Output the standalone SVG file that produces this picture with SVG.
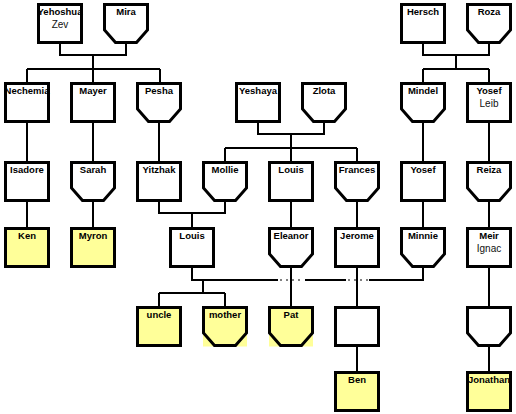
<svg xmlns="http://www.w3.org/2000/svg" width="516" height="414" viewBox="0 0 516 414">
<style>
.b{fill:#fff;stroke:#000;stroke-width:3}
.d .b{fill:#ffff99}
.yb{fill:#ffff99}
.c{fill:none;stroke:#000;stroke-width:2}
.g{fill:none;stroke:#000;stroke-width:1;stroke-dasharray:2 4}
text{font-family:"Liberation Sans",Arial,sans-serif;font-size:9.5px;font-weight:bold;fill:#000;text-anchor:middle}
text.s{font-weight:normal;font-size:10px;fill:#111}
</style>
<rect width="516" height="414" fill="#fff"/>
<g id="connectors">
<path class="c" d="M60 43 V55 H126 V43 M93 55 V69 M27 69 H160 M27 69 V83 M93 69 V83 M160 69 V83"/>
<path class="c" d="M423 43 V55 H489 V43 M456 55 V69 M423 69 H489 M423 69 V83 M489 69 V83"/>
<path class="c" d="M258 122 V134 H324 V122 M291 134 V148 M225 148 H357 M225 148 V162 M291 148 V162 M357 148 V162"/>
<path class="c" d="M27 122 V162 M93 122 V162 M159 122 V162 M423 122 V162 M489 122 V162"/>
<path class="c" d="M27 201 V228 M93 201 V228 M291 201 V228 M357 201 V228 M423 201 V228 M489 201 V228"/>
<path class="c" d="M159 201 V213 H225 V201 M192 213 V228"/>
<path class="c" d="M192 267 V280 H278 M305 280 H346 M369 280 H423 V267"/>
<path class="g" d="M280 280 H304 M348 280 H368"/>
<path class="c" d="M203 280 V293 M159 293 H225 M159 293 V307 M225 293 V307"/>
<path class="c" d="M291 267 V307 M357 267 V307 M489 267 V307 M357 346 V372 M489 346 V372"/>
</g>
<g id="yehoshua"><rect class="b" x="38.5" y="4.5" width="43" height="38"/><text x="60" y="15">Yehoshua</text><text class="s" x="60" y="27.5">Zev</text></g>
<g id="mira"><path class="b" d="M104.5 4.5 H147.5 V30 L136.5 42.5 H115.5 L104.5 30 Z"/><text x="126" y="15">Mira</text></g>
<g id="hersch"><rect class="b" x="401.5" y="4.5" width="43" height="38"/><text x="423" y="15">Hersch</text></g>
<g id="roza"><path class="b" d="M467.5 4.5 H510.5 V30 L499.5 42.5 H478.5 L467.5 30 Z"/><text x="489" y="15">Roza</text></g>

<g id="nechemia"><rect class="b" x="5.5" y="83.5" width="43" height="38"/><text x="27" y="94">Nechemia</text></g>
<g id="mayer"><rect class="b" x="71.5" y="83.5" width="43" height="38"/><text x="93" y="94">Mayer</text></g>
<g id="pesha"><path class="b" d="M137.5 83.5 H180.5 V109 L169.5 121.5 H148.5 L137.5 109 Z"/><text x="159" y="94">Pesha</text></g>
<g id="yeshaya"><rect class="b" x="236.5" y="83.5" width="43" height="38"/><text x="258" y="94">Yeshaya</text></g>
<g id="zlota"><path class="b" d="M302.5 83.5 H345.5 V109 L334.5 121.5 H313.5 L302.5 109 Z"/><text x="324" y="94">Zlota</text></g>
<g id="mindel"><path class="b" d="M401.5 83.5 H444.5 V109 L433.5 121.5 H412.5 L401.5 109 Z"/><text x="423" y="94">Mindel</text></g>
<g id="yosefleib"><rect class="b" x="467.5" y="83.5" width="43" height="38"/><text x="489" y="94">Yosef</text><text class="s" x="489" y="106.5">Leib</text></g>

<g id="isadore"><rect class="b" x="5.5" y="162.5" width="43" height="38"/><text x="27" y="173">Isadore</text></g>
<g id="sarah"><path class="b" d="M71.5 162.5 H114.5 V188 L103.5 200.5 H82.5 L71.5 188 Z"/><text x="93" y="173">Sarah</text></g>
<g id="yitzhak"><rect class="b" x="137.5" y="162.5" width="43" height="38"/><text x="159" y="173">Yitzhak</text></g>
<g id="mollie"><path class="b" d="M203.5 162.5 H246.5 V188 L235.5 200.5 H214.5 L203.5 188 Z"/><text x="225" y="173">Mollie</text></g>
<g id="louis1"><rect class="b" x="269.5" y="162.5" width="43" height="38"/><text x="291" y="173">Louis</text></g>
<g id="frances"><path class="b" d="M335.5 162.5 H378.5 V188 L367.5 200.5 H346.5 L335.5 188 Z"/><text x="357" y="173">Frances</text></g>
<g id="yosef"><rect class="b" x="401.5" y="162.5" width="43" height="38"/><text x="423" y="173">Yosef</text></g>
<g id="reiza"><path class="b" d="M467.5 162.5 H510.5 V188 L499.5 200.5 H478.5 L467.5 188 Z"/><text x="489" y="173">Reiza</text></g>

<g id="ken" class="d"><rect class="b" x="5.5" y="228.5" width="43" height="38"/><text x="27" y="239">Ken</text></g>
<g id="myron" class="d"><rect class="b" x="71.5" y="228.5" width="43" height="38"/><text x="93" y="239">Myron</text></g>
<g id="louis2"><rect class="b" x="170.5" y="228.5" width="43" height="38"/><text x="192" y="239">Louis</text></g>
<g id="eleanor"><path class="b" d="M269.5 228.5 H312.5 V254 L301.5 266.5 H280.5 L269.5 254 Z"/><text x="291" y="239">Eleanor</text></g>
<g id="jerome"><rect class="b" x="335.5" y="228.5" width="43" height="38"/><text x="357" y="239">Jerome</text></g>
<g id="minnie"><path class="b" d="M401.5 228.5 H444.5 V254 L433.5 266.5 H412.5 L401.5 254 Z"/><text x="423" y="239">Minnie</text></g>
<g id="meir"><rect class="b" x="467.5" y="228.5" width="43" height="38"/><text x="489" y="239">Meir</text><text class="s" x="489" y="251.5">Ignac</text></g>

<g id="uncle" class="d"><rect class="b" x="137.5" y="307.5" width="43" height="38"/><text x="159" y="318">uncle</text></g>
<g id="mother" class="d"><rect class="yb" x="203" y="307.5" width="44" height="39"/><path class="b" d="M203.5 307.5 H246.5 V333 L235.5 345.5 H214.5 L203.5 333 Z"/><text x="225" y="318">mother</text></g>
<g id="pat" class="d"><rect class="yb" x="269" y="307.5" width="44" height="39"/><path class="b" d="M269.5 307.5 H312.5 V333 L301.5 345.5 H280.5 L269.5 333 Z"/><text x="291" y="318">Pat</text></g>
<g id="unknown-m"><rect class="b" x="335.5" y="307.5" width="43" height="38"/></g>
<g id="unknown-f"><path class="b" d="M467.5 307.5 H510.5 V333 L499.5 345.5 H478.5 L467.5 333 Z"/></g>

<g id="ben" class="d"><rect class="b" x="335.5" y="372.5" width="43" height="38"/><text x="357" y="383">Ben</text></g>
<g id="jonathan" class="d"><rect class="b" x="467.5" y="372.5" width="43" height="38"/><text x="489" y="383">Jonathan</text></g>
</svg>
